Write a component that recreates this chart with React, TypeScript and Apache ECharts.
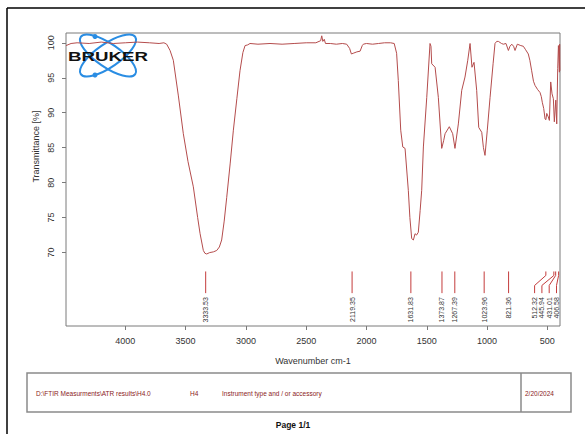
import React, { useEffect, useRef } from "react";
import * as echarts from "echarts";

const FONT = "'Liberation Sans', Arial, sans-serif";

// Spectrum (wavenumber cm-1, transmittance %)
const wavenumbers = [
  4492, 4450, 4400, 4300, 4200, 4100, 4000, 3900, 3800, 3720, 3680, 3657, 3629, 3602, 3560, 3519, 3480, 3436, 3400, 3380,
  3353, 3340, 3325, 3300, 3270, 3242, 3220, 3201, 3180, 3159, 3130, 3104, 3075, 3049, 3025, 3007, 2985, 2966, 2900, 2800,
  2700, 2600, 2500, 2420, 2380, 2371, 2362, 2350, 2340, 2300, 2250, 2200, 2164, 2140, 2125, 2110, 2080, 2053, 2035, 2026,
  2000, 1950, 1900, 1850, 1800, 1770, 1750, 1736, 1716, 1699, 1680, 1653, 1640, 1625, 1611, 1597, 1585, 1570, 1555, 1542,
  1528, 1500, 1473, 1465, 1459, 1431, 1404, 1376, 1360, 1348, 1313, 1285, 1266, 1238, 1210, 1183, 1160, 1141, 1125, 1108,
  1086, 1069, 1044, 1030, 1017, 998, 975, 950, 934, 920, 906, 880, 865, 843, 823, 810, 795, 780, 768, 749,
  720, 699, 680, 658, 645, 630, 615, 602, 580, 561, 550, 542, 530, 519, 512, 505, 492, 483, 472, 461,
  450, 442, 430, 422, 414, 408, 403, 400, 398, 396,
];
const transmittance = [
  99.6, 99.9, 100.0, 99.9, 100.1, 99.9, 100.0, 100.1, 100.0, 99.9, 100.0, 99.8, 98.9, 97.5, 92.4, 87.0, 83.0, 79.4, 75.0, 72.7,
  70.3, 69.9, 69.8, 70.0, 70.1, 70.3, 70.8, 71.8, 74.5, 77.9, 82.8, 87.5, 92.0, 96.0, 98.6, 99.6, 99.7, 99.9, 99.8, 99.9,
  99.8, 99.9, 100.0, 100.0, 100.3, 101.0, 100.2, 100.5, 99.9, 99.9, 99.8, 99.9, 99.8, 99.2, 98.4, 98.5, 98.7, 98.8, 99.6, 99.8,
  99.9, 99.8, 99.9, 100.0, 100.0, 99.9, 98.5, 94.6, 87.5, 85.1, 84.9, 78.9, 75.0, 72.0, 71.8, 72.7, 72.5, 72.9, 76.0, 78.9,
  85.1, 92.2, 99.9, 99.5, 97.0, 96.5, 92.2, 84.9, 86.0, 87.0, 88.0, 87.0, 84.9, 88.4, 93.2, 95.1, 97.5, 99.9, 96.5, 97.2,
  93.2, 87.9, 87.2, 85.0, 83.9, 87.5, 92.2, 97.0, 99.9, 100.2, 100.2, 99.9, 99.8, 99.9, 98.9, 99.5, 99.8, 99.5, 98.9, 99.8,
  99.6, 99.5, 99.0, 98.4, 97.5, 96.0, 94.5, 93.9, 93.3, 92.9, 92.3, 91.5, 90.6, 89.1, 89.0, 89.9, 89.4, 88.9, 94.4, 92.7,
  92.0, 88.7, 91.8, 88.4, 96.3, 99.6, 97.0, 95.8, 99.8, 96.0,
];

const peakPositions = [3333.53, 2119.35, 1631.83, 1373.87, 1267.39, 1023.96, 821.36, 512.32, 445.94, 431.01, 406.58];
const peakLabels = ["3333.53", "2119.35", "1631.83", "1373.87", "1267.39", "1023.96", "821.36", "512.32", "445.94", "431.01", "406.58"];

const xTickValues = [500, 1000, 1500, 2000, 2500, 3000, 3500, 4000];
const yTickValues = [70, 75, 80, 85, 90, 95, 100];

const tableFields = ["D:\\FTIR Measurments\\ATR results\\H4.0", "H4", "Instrument type and / or accessory"];
const tableDate = "2/20/2024";
const pageLabel = "Page 1/1";

const MARK_TOP = 67.3;
const MARK_BOTTOM = 64.2;

export default function App() {
  const ref = useRef<HTMLDivElement>(null);
  useEffect(() => {
    if (!ref.current) return;
    const chart = echarts.init(ref.current, undefined, { renderer: "svg" });
    const spectrum = wavenumbers.map((w, i) => [w, transmittance[i]]);
    const n = peakPositions.length;

    const option: any = {
      animation: false,
      backgroundColor: "#ffffff",
      textStyle: { fontFamily: FONT },
      grid: {
        left: 66,
        top: 33,
        right: 25,
        bottom: 108,
        show: true,
        borderColor: "#7a7a7a",
        borderWidth: 1,
        containLabel: false,
      },
      xAxis: {
        type: "value",
        inverse: true,
        min: 395,
        max: 4492,
        splitLine: { show: false },
        axisLine: { show: false },
        axisTick: { show: true, length: 4, lineStyle: { color: "#7a7a7a" }, customValues: xTickValues },
        axisLabel: {
          customValues: xTickValues,
          fontSize: 9,
          color: "#333",
          margin: 10,
          fontFamily: FONT,
          formatter: (v: number) => String(v),
        },
        name: "Wavenumber cm-1",
        nameLocation: "middle",
        nameGap: 30,
        nameTextStyle: { fontSize: 9, color: "#333", fontFamily: FONT },
      },
      yAxis: {
        type: "value",
        min: 59.5,
        max: 101.4,
        splitLine: { show: false },
        axisLine: { show: false },
        axisTick: { show: true, length: 4, lineStyle: { color: "#7a7a7a" }, customValues: yTickValues },
        axisLabel: {
          customValues: yTickValues,
          fontSize: 9,
          color: "#333",
          rotate: 90,
          margin: 11,
          fontFamily: FONT,
          formatter: (v: number) => String(v),
        },
      },
      series: [
        {
          type: "line",
          data: spectrum,
          showSymbol: false,
          symbol: "none",
          lineStyle: { color: "#b44c4c", width: 1 },
          z: 2,
        },
        {
          type: "custom",
          clip: false,
          z: 3,
          data: peakPositions.map((p) => [p, MARK_TOP]),
          encode: { x: 0, y: 1 },
          renderItem: (params: any, api: any) => {
            const i = params.dataIndex;
            const px = peakPositions.map((p) => api.coord([p, MARK_TOP])[0]);
            const rightLimit = params.coordSys.x + params.coordSys.width - 3.5;
            const lx: number[] = new Array(n);
            let prev = Infinity;
            for (let k = n - 1; k >= 0; k--) {
              const lim = k === n - 1 ? rightLimit : prev - 7.3;
              lx[k] = Math.min(px[k], lim);
              prev = lx[k];
            }
            const top = api.coord([peakPositions[i], MARK_TOP])[1];
            const bottom = api.coord([peakPositions[i], MARK_BOTTOM])[1];
            const x0 = px[i];
            const x1 = lx[i];
            const points =
              Math.abs(x0 - x1) < 0.5
                ? [[x0, top], [x0, bottom]]
                : [[x0, top], [x0, top + 4], [x1, top + 14], [x1, bottom]];
            return {
              type: "group",
              children: [
                { type: "polyline", shape: { points }, style: { stroke: "#c43c3c", lineWidth: 1, fill: "none" } },
                {
                  type: "text",
                  x: x1,
                  y: bottom + 4,
                  rotation: Math.PI / 2,
                  style: {
                    text: peakLabels[i],
                    fontSize: 7,
                    fontFamily: FONT,
                    fill: "#333",
                    align: "right",
                    textAlign: "right",
                    verticalAlign: "middle",
                    textVerticalAlign: "middle",
                  },
                },
              ],
            };
          },
        },
      ],
      graphic: [
        // page border lines
        { type: "line", shape: { x1: 7, y1: 8, x2: 585, y2: 8 }, style: { stroke: "#000", lineWidth: 1.5 } },
        { type: "line", shape: { x1: 7, y1: 8, x2: 7, y2: 434 }, style: { stroke: "#000", lineWidth: 1.5 } },
        // y axis name
        {
          type: "text",
          x: 36,
          y: 146.5,
          rotation: Math.PI / 2,
          style: { text: "Transmittance [%]", fontSize: 9, fontFamily: FONT, fill: "#333", align: "center", verticalAlign: "middle" },
        },
        // logo
        {
          type: "group",
          z: 100,
          children: [
            { type: "ellipse", x: 108, y: 55.5, rotation: 0.6, shape: { cx: 0, cy: 0, rx: 33, ry: 11.7 }, style: { fill: "none", stroke: "#2a8de3", lineWidth: 2 } },
            { type: "ellipse", x: 108, y: 55.5, rotation: -0.6, shape: { cx: 0, cy: 0, rx: 33, ry: 11.7 }, style: { fill: "none", stroke: "#2a8de3", lineWidth: 2 } },
            { type: "circle", shape: { cx: 95, cy: 36.5, r: 2.5 }, style: { fill: "#2a8de3" } },
            { type: "circle", shape: { cx: 95, cy: 75, r: 2.5 }, style: { fill: "#2a8de3" } },
            {
              type: "text",
              x: 108,
              y: 56,
              scaleX: 1.44,
              style: { text: "BRUKER", fontSize: 13, fontWeight: "bold", fontFamily: FONT, fill: "#111", align: "center", verticalAlign: "middle" },
            },
          ],
        },
        // table box
        { type: "rect", shape: { x: 27, y: 373, width: 544, height: 39 }, style: { fill: "none", stroke: "#8a8a8a", lineWidth: 1.5 } },
        { type: "line", shape: { x1: 521, y1: 373, x2: 521, y2: 412 }, style: { stroke: "#8a8a8a", lineWidth: 1.5 } },
        { type: "text", x: 36, y: 393, style: { text: tableFields[0], fontSize: 6.5, fontFamily: FONT, fill: "#8b2323", align: "left", verticalAlign: "middle" } },
        { type: "text", x: 190, y: 393, style: { text: tableFields[1], fontSize: 6.5, fontFamily: FONT, fill: "#8b2323", align: "left", verticalAlign: "middle" } },
        { type: "text", x: 222, y: 393, style: { text: tableFields[2], fontSize: 6.5, fontFamily: FONT, fill: "#8b2323", align: "left", verticalAlign: "middle" } },
        { type: "text", x: 525, y: 393, style: { text: tableDate, fontSize: 6.5, fontFamily: FONT, fill: "#8b2323", align: "left", verticalAlign: "middle" } },
        { type: "text", x: 293, y: 425, style: { text: pageLabel, fontSize: 8.5, fontWeight: "bold", fontFamily: FONT, fill: "#111", align: "center", verticalAlign: "middle" } },
      ],
    };
    chart.setOption(option);
    return () => chart.dispose();
  }, []);
  return <div ref={ref} style={{ position: "absolute", left: 0, top: 0, width: 585, height: 434 }} />;
}
